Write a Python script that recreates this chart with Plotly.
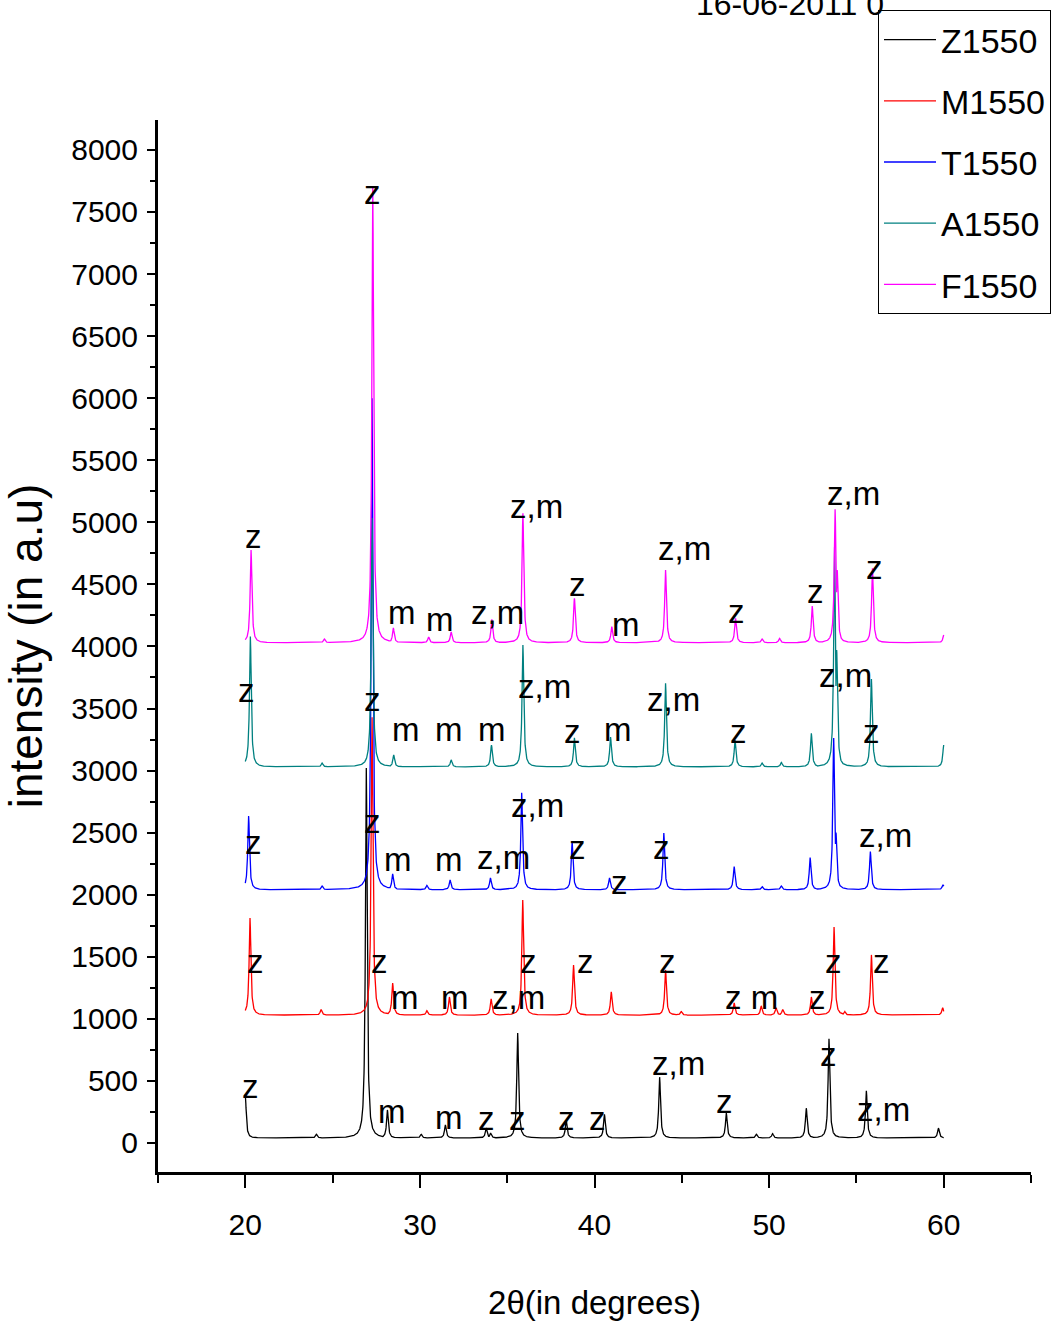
import numpy as np
import plotly.graph_objects as go

# ---------------- data ----------------
names = ["Z1550", "M1550", "T1550", "A1550", "F1550"]
colors = ["#000000", "#FF0000", "#0000FF", "#008080", "#FF00FF"]
baselines = [40, 1030, 2040, 3030, 4030]

# peak positions (2theta, deg) and peak-top intensities for each pattern
z_pos = [20.0, 24.07, 26.93, 28.14, 30.07, 31.46, 33.8, 34.05, 35.6, 38.38, 40.57, 43.73,
         47.55, 49.27, 50.2, 52.13, 53.43, 55.57, 59.7]
z_top = [390, 70, 3020, 266, 70, 145, 120, 80, 886, 185, 230, 530,
         240, 70, 75, 280, 840, 420, 120]

m_pos = [20.27, 24.34, 27.26, 28.44, 30.4, 31.69, 34.08, 35.89, 38.8, 40.96, 44.07, 44.97,
         48.0, 49.55, 50.4, 50.78, 52.42, 53.72, 54.33, 55.86, 59.94]
m_top = [1812, 1075, 3430, 1289, 1065, 1176, 1160, 1958, 1434, 1217, 1394, 1060,
         1128, 1100, 1090, 1075, 1176, 1740, 1060, 1515, 1090]

t_pos = [20.19, 24.4, 27.26, 28.44, 30.4, 31.73, 34.04, 35.83, 38.72, 40.86, 43.97,
         48.0, 49.6, 50.7, 52.35, 53.7, 53.83, 55.8, 59.96]
t_top = [2634, 2070, 6000, 2167, 2075, 2119, 2135, 2822, 2417, 2135, 2497,
         2226, 2065, 2070, 2300, 3262, 2500, 2347, 2080]

a_pos = [20.29, 24.4, 27.26, 28.5, 31.79, 34.1, 35.9, 38.85, 40.92, 44.07,
         48.05, 49.6, 50.7, 52.42, 53.75, 53.87, 55.86, 60.0]
a_top = [4080, 3060, 5035, 3126, 3086, 3206, 4012, 3263, 3270, 3703,
         3246, 3060, 3065, 3300, 4800, 3970, 3738, 3206]

f_pos = [20.33, 24.53, 27.3, 28.48, 30.5, 31.79, 34.12, 35.9, 38.85, 40.99, 44.07,
         48.08, 49.6, 50.6, 52.47, 53.78, 53.9, 55.92, 60.0]
f_top = [4777, 4060, 7700, 4149, 4076, 4117, 4219, 5073, 4388, 4160, 4616,
         4227, 4060, 4065, 4326, 5105, 4616, 4630, 4092]

peak_pos = [z_pos, m_pos, t_pos, a_pos, f_pos]
peak_top = [z_top, m_top, t_top, a_top, f_top]

# phase labels (text, 2theta, intensity) for each pattern
z_labels = [("z", 20.29, 451), ("m", 28.42, 250), ("m", 31.69, 209), ("z", 33.81, 201),
            ("z", 35.59, 201), ("z", 38.4, 201), ("z", 40.17, 201), ("z,m", 44.81, 644),
            ("z", 47.45, 330), ("z", 53.41, 709), ("z,m", 56.56, 266)]
m_labels = [("z", 20.57, 1458), ("z", 27.68, 1458), ("m", 29.17, 1168), ("m", 32.03, 1168),
            ("z,m", 35.64, 1168), ("z", 36.22, 1458), ("z", 39.48, 1458), ("z", 44.18, 1458),
            ("z m", 49.0, 1168), ("z", 52.78, 1168), ("z", 53.7, 1458), ("z", 56.45, 1458)]
t_labels = [("z", 20.46, 2417), ("z", 27.28, 2586), ("m", 28.77, 2280), ("m", 31.69, 2280),
            ("z,m", 34.79, 2296), ("z,m", 36.73, 2715), ("z", 39.03, 2377), ("z", 41.43, 2095),
            ("z", 43.84, 2377), ("z,m", 56.68, 2473)]
a_labels = [("z", 20.06, 3649), ("z", 27.28, 3569), ("m", 29.23, 3327), ("m", 31.69, 3327),
            ("m", 34.15, 3327), ("z,m", 37.13, 3674), ("z", 38.74, 3311), ("m", 41.32, 3327),
            ("z,m", 44.53, 3569), ("z", 48.25, 3311), ("z,m", 54.38, 3762), ("z", 55.87, 3311)]
f_labels = [("z", 20.46, 4882), ("z", 27.28, 7661), ("z,m", 36.68, 5124), ("m", 29.0, 4270),
            ("m", 31.17, 4213), ("z,m", 34.44, 4270), ("z", 39.03, 4495), ("m", 41.78, 4173),
            ("z,m", 45.16, 4793), ("z", 48.14, 4278), ("z", 52.67, 4439), ("z,m", 54.84, 5236),
            ("z", 56.05, 4632)]
all_labels = z_labels + m_labels + t_labels + a_labels + f_labels

x_ticks = [20, 30, 40, 50, 60]

# ---------------- figure ----------------
FONT = "Liberation Sans, Arial, sans-serif"
grid = np.round(np.arange(20.0, 60.0001, 0.01), 2)
hwhm = 0.06

fig = go.Figure()
for name, col, base, pos, top in zip(names, colors, baselines, peak_pos, peak_top):
    prof = np.zeros_like(grid)
    for p, t in zip(pos, top):
        prof = np.maximum(prof, (t - base) / (1.0 + ((grid - p) / hwhm) ** 2))
    fig.add_trace(go.Scatter(x=grid, y=base + prof, mode="lines", name=name, legendgroup=name,
                             line=dict(color=col, width=1.3)))

for txt, x, y in all_labels:
    fig.add_annotation(x=x, y=y, text=txt, showarrow=False, xanchor="center", yanchor="middle",
                       font=dict(family=FONT, size=33, color="black"))

# partially cut-off header text at the very top (as in the source image)
fig.add_annotation(xref="paper", yref="paper", x=(790 - 158) / 873, y=(1172 - 24) / 1052,
                   text="16-06-2011 0", showarrow=False, xanchor="center", yanchor="bottom",
                   font=dict(family=FONT, size=32, color="black"))

fig.update_layout(
    width=1058, height=1334,
    margin=dict(l=158, r=27, t=120, b=162, autoexpand=False),
    paper_bgcolor="white", plot_bgcolor="white",
    showlegend=True,
    legend=dict(x=(878 - 158) / 873, y=(1172 - 10) / 1052, xanchor="left", yanchor="top",
                bgcolor="white", bordercolor="black", borderwidth=1,
                font=dict(family=FONT, size=34, color="black"),
                itemwidth=52, tracegroupgap=14),
    xaxis=dict(range=[15, 65], tickmode="array", tickvals=x_ticks,
               ticktext=[str(v) for v in x_ticks], automargin=False,
               showline=True, linewidth=3, linecolor="black", mirror=False,
               ticks="outside", ticklen=13, tickwidth=2, tickcolor="black",
               minor=dict(dtick=5, tick0=0, ticks="outside", ticklen=8, tickwidth=2, tickcolor="black"),
               showgrid=False, zeroline=False, ticklabelstandoff=11,
               tickfont=dict(family=FONT, size=30, color="black"),
               title=dict(text="2θ(in degrees)", standoff=51,
                          font=dict(family=FONT, size=33, color="black"))),
    yaxis=dict(range=[-234, 8241], tick0=0, dtick=500, automargin=False,
               showline=True, linewidth=3, linecolor="black", mirror=False,
               ticks="outside", ticklen=8, tickwidth=2, tickcolor="black",
               minor=dict(dtick=250, tick0=0, ticks="outside", ticklen=5, tickwidth=2, tickcolor="black"),
               showgrid=False, zeroline=False, ticklabelstandoff=3,
               tickfont=dict(family=FONT, size=30, color="black"),
               title=dict(text="intensity (in a.u)", standoff=36,
                          font=dict(family=FONT, size=46, color="black"))),
)

fig.write_html("out.html")
